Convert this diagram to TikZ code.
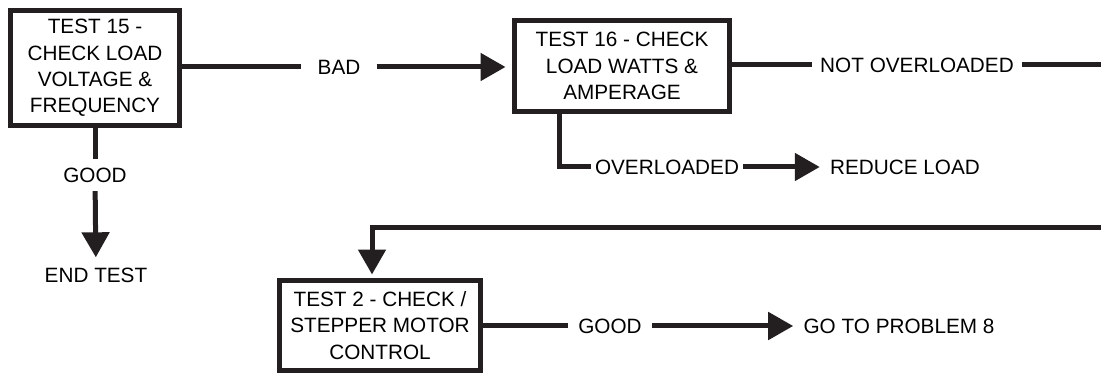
\documentclass[tikz,border=0pt]{standalone}
\usepackage{fontspec}
\setmainfont{Liberation Sans}
\usetikzlibrary{arrows.meta}
\definecolor{ink}{HTML}{231F20}

\begin{document}
\begin{tikzpicture}[x=0.02cm,y=-0.02cm,
  testbox/.style={draw=ink,line width=0.1cm,align=center,inner sep=0pt,
    font=\fontsize{11.8}{15}\selectfont},
  lbl/.style={inner sep=0.2cm,font=\fontsize{11.8}{15}\selectfont},
  line/.style={draw=ink,line width=0.1cm},
  arr/.style={line,-{Triangle[length=0.5cm,width=0.54cm]}}]

\useasboundingbox (0,0) rectangle (1101,374);

%Boxen
\node[testbox,minimum width=3.38cm,minimum height=2.3cm] (t15) at (95,68)
  {TEST 15 -\\CHECK LOAD\\VOLTAGE \&\\FREQUENCY};
\node[testbox,minimum width=4.3cm,minimum height=1.82cm] (t16) at (622,66)
  {TEST 16 - CHECK\\LOAD WATTS \&\\AMPERAGE};
\node[testbox,minimum width=4.02cm,minimum height=1.8cm] (t2) at (380,325.5)
  {TEST 2 - CHECK /\\STEPPER MOTOR\\CONTROL};

%Beschriftung
\node[lbl,inner sep=0.32cm] (bad) at (339,67) {BAD};
\node[lbl,inner sep=0.17cm] (good1) at (95,175) {GOOD};
\node[lbl] (endtest) at (96,275) {END TEST};
\node[lbl,inner sep=0.16cm] (notover) at (917,65) {NOT OVERLOADED};
\node[lbl,inner sep=0.08cm] (over) at (667,167) {OVERLOADED};
\node[lbl] (reduce) at (905,167) {REDUCE LOAD};
\node[lbl] (good2) at (610,326) {GOOD};
\node[lbl] (goto) at (899,326) {GO TO PROBLEM 8};

\coordinate (offtop) at (1101,65);
\coordinate (offbot) at (1101,228);
\coordinate (drop) at (372,228);

%Pfeile
\draw[line] (t15.east |- bad) -- (bad);
\draw[arr,shorten >=0.13cm] (bad) -- (bad -| t16.west);
\draw[line] (t15) -- (good1);
\draw[arr] (good1) -- (endtest);

\draw[line] (t16.east |- notover) -- (notover);
\draw[line] (notover) -- (offtop);
\draw[line] (t16.south) ++(-63,0) |- (over);
\draw[arr] (over) -- (reduce);

\draw[arr,shorten >=0.07cm] (offbot) -- (drop) -- (drop |- t2.north);
\draw[line] (t2.east |- good2) -- (good2);
\draw[arr] (good2) -- (goto);

\end{tikzpicture}
\end{document}
